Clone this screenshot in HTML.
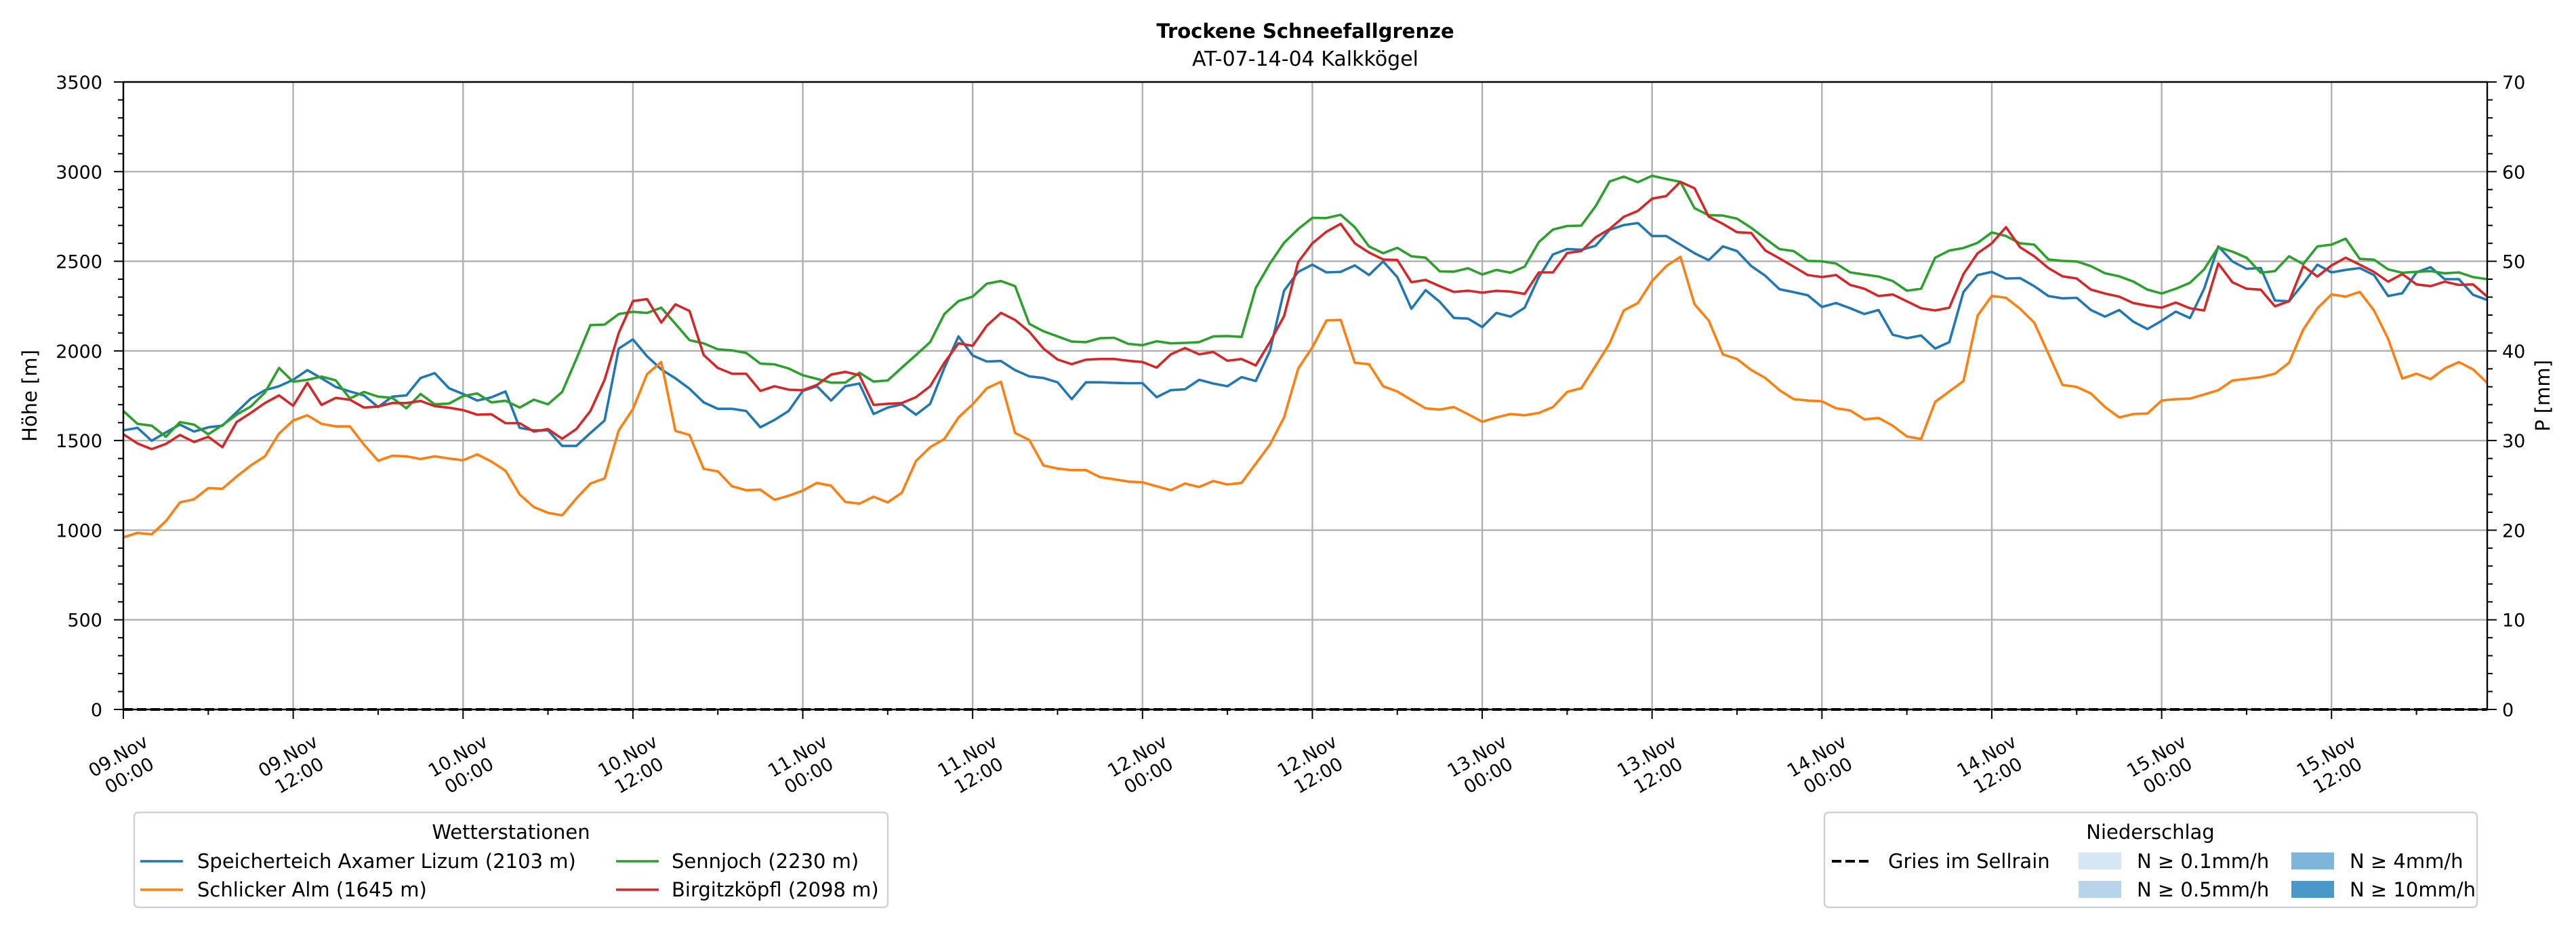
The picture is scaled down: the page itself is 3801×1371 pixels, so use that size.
<!DOCTYPE html>
<html><head><meta charset="utf-8"><title>Trockene Schneefallgrenze</title>
<style>html,body{margin:0;padding:0;background:#fff}svg{display:block;font-family:"DejaVu Sans","Liberation Sans",sans-serif}</style>
</head><body>
<svg id="chart" xmlns="http://www.w3.org/2000/svg" width="3801" height="1371" viewBox="0 0 3801 1371">
<rect width="3801" height="1371" fill="#fff"/>
<text x="1926" y="56" font-size="29" font-weight="bold" text-anchor="middle">Trockene Schneefallgrenze</text>
<text x="1926" y="97" font-size="30" text-anchor="middle">AT-07-14-04 Kalkkögel</text>
<g id="grid"></g>
<g id="series"></g>
<g id="axes"></g>
<text transform="translate(54,584) rotate(-90)" font-size="29" text-anchor="middle">Höhe [m]</text>
<text transform="translate(3762,584) rotate(-90)" font-size="29" text-anchor="middle">P [mm]</text>

<g>
<rect x="198" y="1199" width="1112" height="140" rx="6" fill="#fff" stroke="#d0d0d0" stroke-width="2.4"/>
<text x="754" y="1238" font-size="29" text-anchor="middle">Wetterstationen</text>
<g><line x1="207" y1="1271" x2="270" y2="1271" stroke="#1f77b4" stroke-width="3.6"/><text x="291" y="1281" font-size="29">Speicherteich Axamer Lizum (2103 m)</text></g>
<g><line x1="207" y1="1313" x2="270" y2="1313" stroke="#ff7f0e" stroke-width="3.6"/><text x="291" y="1323" font-size="29">Schlicker Alm (1645 m)</text></g>
<g><line x1="909" y1="1271" x2="972" y2="1271" stroke="#2ca02c" stroke-width="3.6"/><text x="991" y="1281" font-size="29">Sennjoch (2230 m)</text></g>
<g><line x1="909" y1="1313" x2="972" y2="1313" stroke="#d62728" stroke-width="3.6"/><text x="991" y="1323" font-size="29">Birgitzköpfl (2098 m)</text></g>
</g>

<g>
<rect x="2692" y="1199" width="963" height="140" rx="6" fill="#fff" stroke="#d0d0d0" stroke-width="2.4"/>
<text x="3173" y="1238" font-size="29" text-anchor="middle">Niederschlag</text>
<g><line x1="2703" y1="1271" x2="2761" y2="1271" stroke="#000" stroke-width="4" stroke-dasharray="14,6"/><text x="2786" y="1281" font-size="29">Gries im Sellrain</text></g>
<g><rect x="3067" y="1258" width="63" height="25" fill="#d6e6f4"/><text x="3153" y="1281" font-size="29">N ≥ 0.1mm/h</text></g>
<g><rect x="3067" y="1300" width="63" height="25" fill="#b7d4ea"/><text x="3153" y="1323" font-size="29">N ≥ 0.5mm/h</text></g>
<g><rect x="3381" y="1258" width="63" height="25" fill="#7fb5d8"/><text x="3467" y="1281" font-size="29">N ≥ 4mm/h</text></g>
<g><rect x="3381" y="1300" width="63" height="25" fill="#4a98c9"/><text x="3467" y="1323" font-size="29">N ≥ 10mm/h</text></g>
</g>
</svg>
<script>
const yTicks = [0,500,1000,1500,2000,2500,3000,3500];
const pTicks = [0,10,20,30,40,50,60,70];
const xTickDays = ["09.Nov","09.Nov","10.Nov","10.Nov","11.Nov","11.Nov","12.Nov","12.Nov","13.Nov","13.Nov","14.Nov","14.Nov","15.Nov","15.Nov"];
const xTickTimes = ["00:00","12:00","00:00","12:00","00:00","12:00","00:00","12:00","00:00","12:00","00:00","12:00","00:00","12:00"];
const precipGries = [0,0];
const axamer = [1557,1571,1499,1545,1589,1550,1574,1583,1658,1734,1781,1803,1839,1893,1847,1799,1774,1752,1687,1745,1752,1849,1876,1792,1760,1723,1741,1774,1571,1557,1557,1470,1470,1542,1612,2013,2064,1970,1897,1847,1789,1713,1677,1677,
1665,1574,1615,1665,1777,1803,1723,1803,1818,1648,1684,1702,1644,1705,1905,2081,1974,1941,1944,1893,1858,1849,1825,1731,1825,1825,1822,1820,1820,1742,1781,1786,1839,1818,1803,1854,1832,1999,2336,2441,2481,2438,2441,
2477,2423,2499,2412,2235,2339,2274,2184,2180,2133,2212,2191,2241,2412,2538,2568,2564,2586,2675,2702,2713,2641,2641,2593,2545,2506,2583,2557,2474,2419,2344,2328,2310,2245,2267,2238,2206,2228,2090,2071,2086,2013,2049,
2329,2423,2441,2404,2406,2361,2306,2293,2296,2228,2191,2228,2163,2122,2168,2219,2183,2347,2583,2499,2458,2462,2281,2277,2375,2481,2438,2452,2462,2423,2306,2322,2438,2467,2400,2400,2313,2284];
const schlicker = [960,985,977,1050,1155,1173,1235,1231,1299,1361,1412,1539,1612,1641,1593,1579,1579,1477,1387,1415,1412,1397,1412,1400,1390,1423,1383,1332,1199,1129,1097,1083,1177,1260,1289,1557,1676,1871,1938,1554,1531,1342,1328,1245,
1223,1226,1170,1192,1221,1264,1248,1158,1148,1187,1155,1209,1386,1463,1509,1629,1702,1792,1828,1542,1503,1361,1344,1335,1335,1296,1284,1271,1267,1245,1223,1260,1241,1274,1255,1264,1371,1477,1629,1902,2020,2170,2173,
1934,1926,1803,1774,1726,1680,1673,1687,1647,1605,1629,1648,1641,1654,1687,1771,1792,1916,2042,2226,2267,2390,2473,2525,2260,2170,1981,1955,1894,1849,1781,1731,1723,1719,1680,1668,1618,1626,1583,1523,1509,1716,1774,
1832,2197,2307,2296,2235,2158,1984,1810,1799,1763,1687,1629,1648,1651,1723,1731,1734,1757,1781,1835,1844,1854,1873,1934,2119,2238,2315,2303,2329,2226,2067,1846,1873,1843,1902,1938,1897,1822];
const sennjoch = [1665,1593,1583,1521,1603,1589,1535,1586,1644,1690,1767,1905,1828,1839,1857,1836,1735,1771,1745,1738,1680,1760,1702,1706,1748,1763,1713,1722,1684,1728,1702,1771,1955,2144,2147,2206,2218,2212,2241,2151,2060,2042,2009,2003,
1989,1929,1925,1902,1864,1844,1823,1823,1878,1829,1835,1907,1977,2049,2206,2278,2303,2375,2390,2361,2151,2110,2081,2052,2049,2071,2073,2039,2032,2054,2042,2045,2049,2081,2083,2078,2351,2487,2603,2680,2742,2741,2759,
2690,2583,2545,2575,2528,2520,2444,2442,2461,2426,2452,2436,2470,2607,2677,2697,2699,2806,2945,2972,2941,2977,2959,2943,2796,2757,2755,2738,2687,2626,2568,2557,2502,2500,2487,2438,2426,2415,2390,2336,2347,2520,2560,
2574,2603,2661,2641,2600,2593,2510,2502,2499,2473,2433,2416,2387,2342,2320,2347,2380,2455,2578,2554,2520,2436,2445,2528,2484,2583,2593,2626,2513,2509,2455,2436,2441,2445,2433,2438,2412,2400];
const birgitz = [1535,1484,1452,1481,1531,1492,1521,1463,1603,1654,1709,1752,1694,1822,1699,1738,1728,1684,1690,1709,1709,1721,1692,1683,1670,1644,1647,1597,1597,1550,1564,1510,1564,1665,1839,2100,2278,2289,2158,2260,2223,1977,1905,1873,
1873,1777,1803,1784,1781,1810,1868,1883,1864,1699,1705,1709,1742,1803,1934,2042,2028,2141,2212,2173,2107,2013,1952,1926,1951,1955,1955,1945,1938,1907,1981,2016,1981,1994,1945,1955,1919,2049,2194,2496,2600,2665,2709,
2600,2549,2510,2507,2383,2396,2361,2329,2336,2325,2335,2331,2318,2438,2438,2546,2557,2633,2680,2748,2781,2849,2864,2943,2907,2749,2709,2662,2658,2560,2516,2470,2423,2412,2423,2368,2347,2306,2315,2277,2238,2226,2241,
2429,2545,2600,2690,2578,2528,2462,2416,2404,2342,2320,2303,2267,2252,2241,2270,2238,2226,2487,2383,2347,2342,2249,2277,2473,2415,2477,2520,2481,2441,2386,2429,2371,2361,2386,2368,2371,2303];

const NS='http://www.w3.org/2000/svg';
const L=182,R=3670,T=121,B=1047,HOURS=167;
const xs=h=>L+(R-L)*h/HOURS;
const ys=v=>B-(B-T)*v/3500;
const yp=v=>B-(B-T)*v/70;
function mk(tag,attrs,parent){const e=document.createElementNS(NS,tag);for(const k in attrs)e.setAttribute(k,attrs[k]);parent.appendChild(e);return e;}
const grid=document.getElementById('grid'),axes=document.getElementById('axes'),ser=document.getElementById('series');
yTicks.forEach(v=>{const l=mk('line',{x1:L,x2:R,y1:ys(v),y2:ys(v),stroke:'#b0b0b0','stroke-width':2.4},grid);

});
xTickDays.forEach((d,i)=>{const x=xs(i*12);
const g=mk('line',{x1:x,x2:x,y1:T,y2:B,stroke:'#b0b0b0','stroke-width':2.4},grid);


mk('line',{x1:x,x2:x,y1:B,y2:B+14,stroke:'#000','stroke-width':2},axes);
mk('line',{x1:xs(i*12+6),x2:xs(i*12+6),y1:B,y2:B+8,stroke:'#000','stroke-width':2},axes);
const t=mk('text',{transform:`translate(${x},1129) rotate(-30)`,'font-size':27,'text-anchor':'middle'},axes);


mk('tspan',{x:0,y:-6},t).textContent=d;
mk('tspan',{x:0,y:27},t).textContent=xTickTimes[i];});
yTicks.forEach(v=>{mk('line',{x1:L-14,x2:L,y1:ys(v),y2:ys(v),stroke:'#000','stroke-width':2},axes);
const t=mk('text',{x:L-31,y:ys(v)+10,'font-size':27,'text-anchor':'end'},axes);


t.textContent=v;});
for(let v=0;v<=3500;v+=100){if(v%500)mk('line',{x1:L-8,x2:L,y1:ys(v),y2:ys(v),stroke:'#000','stroke-width':2},axes);}
pTicks.forEach(v=>{mk('line',{x1:R,x2:R+14,y1:yp(v),y2:yp(v),stroke:'#000','stroke-width':2},axes);
const t=mk('text',{x:R+22,y:yp(v)+10,'font-size':27},axes);


t.textContent=v;});
for(let v=0;v<=70;v+=2){if(v%10)mk('line',{x1:R,x2:R+8,y1:yp(v),y2:yp(v),stroke:'#000','stroke-width':2},axes);}
function line(arr,color,name){const d=arr.map((v,i)=>(i?'L':'M')+xs(i).toFixed(1)+','+ys(v).toFixed(1)).join('');
const p=mk('path',{d:d,fill:'none',stroke:color,'stroke-width':3.6,'stroke-linejoin':'round'},ser);

}
line(axamer,'#1f77b4','series-axamer-lizum');
line(schlicker,'#ff7f0e','series-schlicker-alm');
line(sennjoch,'#2ca02c','series-sennjoch');
line(birgitz,'#d62728','series-birgitzkoepfl');
const gp=mk('path',{d:'M'+L+','+yp(precipGries[0])+'L'+R+','+yp(precipGries[1]),stroke:'#000','stroke-width':4,'stroke-dasharray':'14,6',fill:'none'},ser);


const f=mk('rect',{x:L,y:T,width:R-L,height:B-T,fill:'none',stroke:'#000','stroke-width':2.4},axes);


</script>
</body></html>
